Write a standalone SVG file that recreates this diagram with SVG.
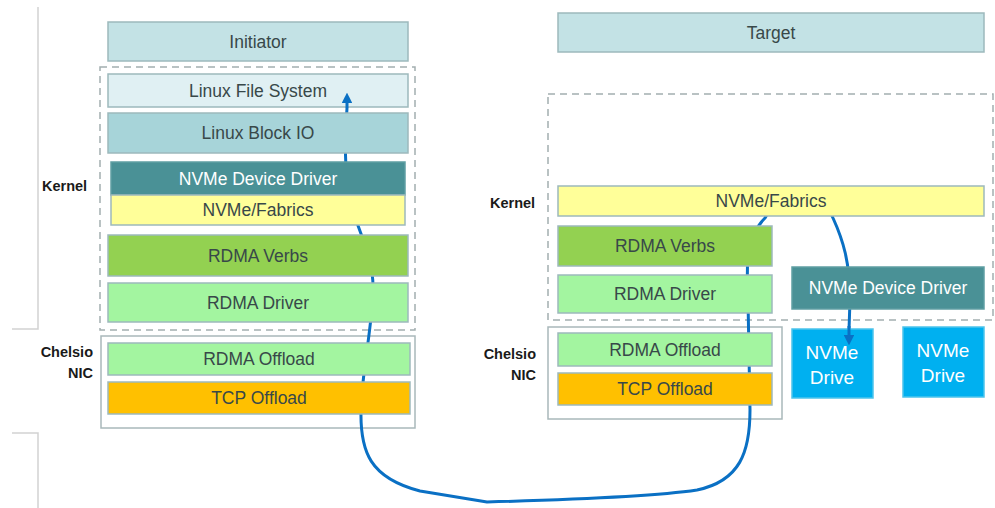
<svg xmlns="http://www.w3.org/2000/svg" width="995" height="508" viewBox="0 0 995 508">
  <style>
    .lbl { font-family: "Liberation Sans", Arial, sans-serif; font-size: 17.5px; fill: #384849; text-anchor: middle; }
    .lbl-w { font-family: "Liberation Sans", Arial, sans-serif; font-size: 17.5px; fill: #ffffff; text-anchor: middle; }
    .drv { font-size: 19px; }
    .side { font-family: "Liberation Sans", Arial, sans-serif; font-size: 14.5px; font-weight: bold; fill: #1a1a1a; }
    .box { stroke: #9db9bc; stroke-width: 1.5; }
    .frame { fill: none; stroke: #a9b8ba; stroke-width: 1.5; }
    .dash { fill: none; stroke: #a3aeb0; stroke-width: 1.5; stroke-dasharray: 7 5; }
    .bracket { fill: none; stroke: #d2d2d2; stroke-width: 1.5; }
    .flow { fill: none; stroke: #0a70c4; stroke-width: 3; stroke-linecap: round; stroke-linejoin: round; }
    .hd { fill: none; stroke: #0a70c4; stroke-width: 3; marker-end: url(#tip); }
  </style>
  <defs>
    <marker id="tip" viewBox="0 0 10 10" refX="5" refY="5" markerWidth="3.6" markerHeight="3.6" orient="auto">
      <path d="M0 0 L10 5 L0 10 z" fill="#0a70c4"/>
    </marker>
  </defs>

  <rect width="995" height="508" fill="#ffffff"/>

  <!-- side brackets -->
  <path class="bracket" d="M38 7 V329 H12"/>
  <path class="bracket" d="M12 433 H38 V508"/>

  <!-- layer frames -->
  <rect class="dash" x="100" y="67" width="315" height="263"/>
  <rect class="frame" x="101" y="336" width="314" height="92"/>
  <rect class="dash" x="548" y="94" width="445" height="226"/>
  <rect class="frame" x="548" y="327" width="234" height="92"/>

  <!-- data path, drawn beneath the stack -->
  <g id="connectors">
    <path class="flow" d="M347 108 C345 140 344 170 350 200 C356 228 374 255 373 290 C372 330 362 370 361 410 C360 452 370 478 420 491 L487 502 C560 500 650 497 697 490 C740 481 750 452 750 410 L748 300 C747 285 747 272 748 255 C750 240 755 228 765 218 C785 180 820 185 833 218 C843 240 850 262 850 300 L849 330"/>
  </g>

  <!-- initiator side -->
  <g id="initiator"><rect class="box" x="108" y="22" width="300" height="39" fill="#c3e2e5"/><text class="lbl" x="258" y="48">Initiator</text></g>
  <g id="i-fs"><rect class="box" x="108" y="74" width="300" height="33" fill="#e0f0f3"/><text class="lbl" x="258" y="97">Linux File System</text></g>
  <g id="i-blockio"><rect class="box" x="108" y="113" width="300" height="40" fill="#a7d4d9"/><text class="lbl" x="258" y="139">Linux Block IO</text></g>
  <g id="i-nvme-driver"><rect x="111" y="162" width="294" height="33" fill="#4a9196" stroke="#5f9ea3" stroke-width="1.5"/><text class="lbl-w" x="258" y="185">NVMe Device Driver</text></g>
  <g id="i-fabrics"><rect class="box" x="111" y="195" width="294" height="30" fill="#ffff99"/><text class="lbl" x="258" y="216">NVMe/Fabrics</text></g>
  <g id="i-verbs"><rect class="box" x="108" y="235" width="300" height="41" fill="#93d151"/><text class="lbl" x="258" y="262">RDMA Verbs</text></g>
  <g id="i-rdma-driver"><rect class="box" x="108" y="283" width="300" height="39" fill="#a3f5a0"/><text class="lbl" x="258" y="309">RDMA Driver</text></g>
  <g id="i-rdma-offload"><rect class="box" x="108" y="343" width="302" height="32" fill="#a3f5a0"/><text class="lbl" x="259" y="365">RDMA Offload</text></g>
  <g id="i-tcp-offload"><rect class="box" x="108" y="382" width="302" height="32" fill="#ffc000"/><text class="lbl" x="259" y="404">TCP Offload</text></g>
  <g id="i-kernel-label"><text class="side" x="42" y="191">Kernel</text></g>
  <g id="i-nic-label"><text class="side" x="93" y="357" text-anchor="end">Chelsio</text><text class="side" x="93" y="378" text-anchor="end">NIC</text></g>

  <!-- target side -->
  <g id="target"><rect class="box" x="558" y="13" width="426" height="39" fill="#c3e2e5"/><text class="lbl" x="771" y="39">Target</text></g>
  <g id="t-fabrics"><rect class="box" x="558" y="186" width="426" height="30" fill="#ffff99"/><text class="lbl" x="771" y="207">NVMe/Fabrics</text></g>
  <g id="t-verbs"><rect class="box" x="558" y="226" width="214" height="40" fill="#93d151"/><text class="lbl" x="665" y="252">RDMA Verbs</text></g>
  <g id="t-rdma-driver"><rect class="box" x="558" y="275" width="214" height="38" fill="#a3f5a0"/><text class="lbl" x="665" y="300">RDMA Driver</text></g>
  <g id="t-nvme-driver"><rect x="792" y="267" width="192" height="42" fill="#4a9196" stroke="#5f9ea3" stroke-width="1.5"/><text class="lbl-w" x="888" y="294">NVMe Device Driver</text></g>
  <g id="t-rdma-offload"><rect class="box" x="558" y="333" width="214" height="33" fill="#a3f5a0"/><text class="lbl" x="665" y="356">RDMA Offload</text></g>
  <g id="t-tcp-offload"><rect class="box" x="558" y="373" width="214" height="32" fill="#ffc000"/><text class="lbl" x="665" y="395">TCP Offload</text></g>
  <g id="t-drive-1"><rect x="792" y="329" width="81" height="69" fill="#00b0f0" stroke="#4cc4ec" stroke-width="1.5"/><text class="lbl-w drv" x="832" y="359">NVMe</text><text class="lbl-w drv" x="832" y="384">Drive</text></g>
  <g id="t-drive-2"><rect x="903" y="327" width="81" height="70" fill="#00b0f0" stroke="#4cc4ec" stroke-width="1.5"/><text class="lbl-w drv" x="943" y="357">NVMe</text><text class="lbl-w drv" x="943" y="382">Drive</text></g>
  <g id="t-kernel-label"><text class="side" x="490" y="208">Kernel</text></g>
  <g id="t-nic-label"><text class="side" x="536" y="359" text-anchor="end">Chelsio</text><text class="side" x="536" y="380" text-anchor="end">NIC</text></g>

  <!-- arrow tips, drawn over the boxes they point into -->
  <g id="connector-tips">
    <path class="hd" d="M347 108 L347 98"/>
    <path class="hd" d="M849 326 L849 340"/>
  </g>
</svg>
